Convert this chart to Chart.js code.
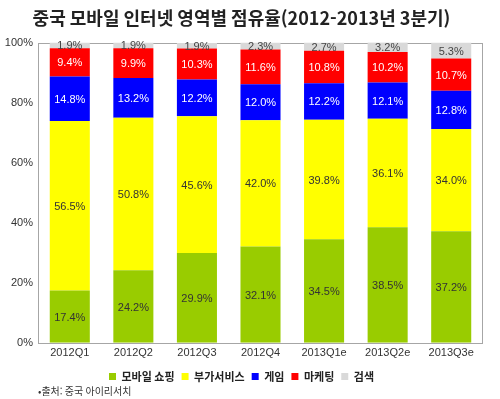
<!DOCTYPE html>
<html lang="ko">
<head>
    <meta charset="UTF-8">
    <title>중국 모바일 인터넷 영역별 점유율</title>
    <script src="https://cdn.jsdelivr.net/npm/chart.js"></script>
    <style>
        body {
            margin: 0;
            padding: 0;
            background: #fff;
        }
        .chart-container {
            width: 500px;
            height: 399px;
        }
    </style>
</head>
<body>
    <div class="chart-container">
        <canvas id="shareChart"></canvas>
    </div>

    <script>
        // categories
        const quarters = ['2012Q1', '2012Q2', '2012Q3', '2012Q4', '2013Q1e', '2013Q2e', '2013Q3e'];

        // series values (%)
        const shopping = [17.4, 24.2, 29.9, 32.1, 34.5, 38.5, 37.2];
        const valueAdded = [56.5, 50.8, 45.6, 42.0, 39.8, 36.1, 34.0];
        const game = [14.8, 13.2, 12.2, 12.0, 12.2, 12.1, 12.8];
        const marketing = [9.4, 9.9, 10.3, 11.6, 10.8, 10.2, 10.7];
        const search = [1.9, 1.9, 1.9, 2.3, 2.7, 3.2, 5.3];

        // y tick labels
        const yTicks = [0, 20, 40, 60, 80, 100];

        const sourceNote = '•출처: 중국 아이리서치';

        const labelFont = '"Liberation Sans", "Noto Sans CJK KR", sans-serif';
        const koFont = '"Noto Sans CJK KR", sans-serif';

        // draws the value of every segment in its middle
        const segmentLabels = {
            id: 'segmentLabels',
            afterDatasetsDraw(chart) {
                const ctx = chart.ctx;
                ctx.save();
                ctx.font = '11px ' + labelFont;
                ctx.textAlign = 'center';
                ctx.textBaseline = 'middle';
                chart.data.datasets.forEach((ds, i) => {
                    const meta = chart.getDatasetMeta(i);
                    meta.data.forEach((bar, j) => {
                        const p = bar.getProps(['x', 'y', 'base'], true);
                        ctx.fillStyle = ds.labelColor;
                        ctx.fillText(ds.data[j].toFixed(1) + '%', p.x, (p.y + p.base) / 2 + 1);
                    });
                });
                ctx.restore();
            }
        };

        // gray frame round the plot area + source note under the legend
        const plotFrame = {
            id: 'plotFrame',
            beforeDatasetsDraw(chart) {
                const a = chart.chartArea;
                const ctx = chart.ctx;
                ctx.save();
                ctx.strokeStyle = '#a6a6a6';
                ctx.lineWidth = 1;
                ctx.strokeRect(Math.round(a.left) + 0.5, Math.round(a.top) + 0.5,
                    Math.round(a.right - a.left) - 1, Math.round(a.bottom - a.top));
                ctx.restore();
            },
            afterDraw(chart) {
                const ctx = chart.ctx;
                ctx.save();
                ctx.font = '10px ' + koFont;
                ctx.fillStyle = '#333';
                ctx.textAlign = 'left';
                ctx.textBaseline = 'middle';
                ctx.fillText(sourceNote, chart.chartArea.left, chart.height - 8);
                ctx.restore();
            }
        };

        const ctx = document.getElementById('shareChart').getContext('2d');
        new Chart(ctx, {
            type: 'bar',
            data: {
                labels: quarters,
                datasets: [
                    { label: '모바일 쇼핑', data: shopping, backgroundColor: '#99cc00', labelColor: '#333' },
                    { label: '부가서비스', data: valueAdded, backgroundColor: '#ffff00', labelColor: '#333' },
                    { label: '게임', data: game, backgroundColor: '#0000ff', labelColor: '#fff' },
                    { label: '마케팅', data: marketing, backgroundColor: '#ff0000', labelColor: '#fff' },
                    { label: '검색', data: search, backgroundColor: '#d9d9d9', labelColor: '#444' }
                ]
            },
            options: {
                responsive: true,
                maintainAspectRatio: false,
                animation: false,
                datasets: {
                    bar: {
                        categoryPercentage: 1,
                        barPercentage: 0.63
                    }
                },
                layout: {
                    padding: { left: 0, right: 17, top: 0, bottom: 7 }
                },
                scales: {
                    x: {
                        stacked: true,
                        grid: { display: false, drawTicks: false },
                        border: { display: false },
                        ticks: {
                            color: '#333',
                            padding: 4,
                            font: { family: labelFont, size: 11 }
                        }
                    },
                    y: {
                        stacked: true,
                        min: 0,
                        max: 100,
                        grid: { display: false, drawTicks: false },
                        border: { display: false },
                        afterFit(scale) {
                            scale.width = 38;
                        },
                        afterBuildTicks(scale) {
                            scale.ticks = yTicks.map(v => ({ value: v }));
                        },
                        ticks: {
                            color: '#333',
                            padding: 5,
                            font: { family: labelFont, size: 11 },
                            callback: v => v + '%'
                        }
                    }
                },
                plugins: {
                    title: {
                        display: true,
                        text: '중국 모바일 인터넷 영역별 점유율(2012-2013년 3분기)',
                        color: '#222',
                        font: { family: koFont, size: 18, weight: 'bold' },
                        padding: { top: 7, bottom: 14 }
                    },
                    legend: {
                        position: 'bottom',
                        labels: {
                            boxWidth: 7,
                            boxHeight: 7,
                            padding: 7,
                            color: '#222',
                            font: { family: koFont, size: 11, weight: 'bold' }
                        }
                    },
                    tooltip: { enabled: false }
                }
            },
            plugins: [segmentLabels, plotFrame]
        });
    </script>
</body>
</html>
